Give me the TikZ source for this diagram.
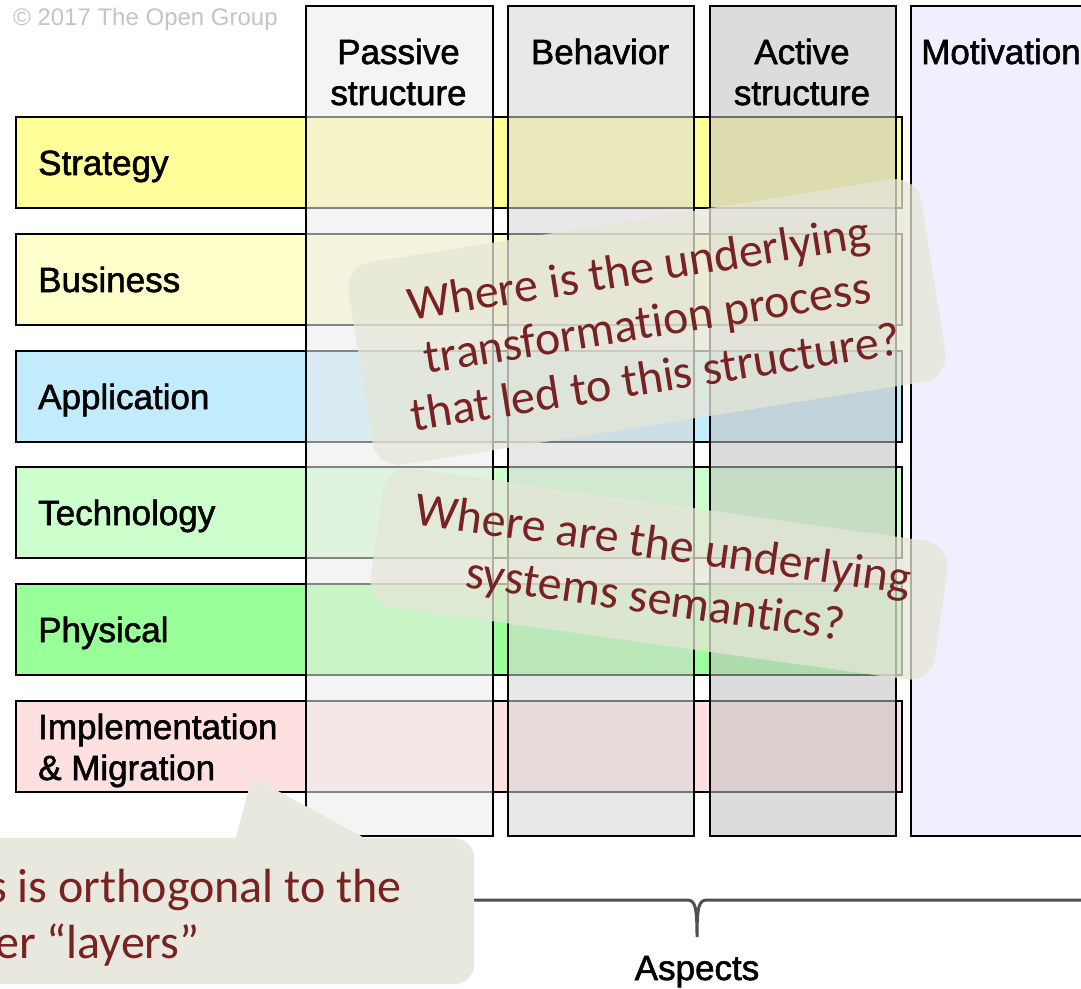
\documentclass[tikz,border=0pt]{standalone}
\usepackage{fontspec}
\setmainfont{Liberation Sans}
\newfontfamily\armfont{Liberation Sans}[FakeBold=1.6]
\newfontfamily\calibrifont{Carlito}[Ligatures={NoCommon}]
\definecolor{cStrat}{HTML}{FFFF99}
\definecolor{cBus}{HTML}{FFFFCC}
\definecolor{cApp}{HTML}{C2EBFB}
\definecolor{cTech}{HTML}{CCFFCC}
\definecolor{cPhys}{HTML}{99FF99}
\definecolor{cImpl}{HTML}{FFE0E0}
\definecolor{cPass}{RGB}{237,237,237}
\definecolor{cBeh}{RGB}{214,214,214}
\definecolor{cAct}{RGB}{193,193,193}
\definecolor{cMot}{RGB}{228,228,255}
\definecolor{cNote}{RGB}{230,230,216}
\definecolor{cNoteSolid}{RGB}{232,232,222}
\definecolor{cNoteText}{RGB}{120,34,34}
\definecolor{cCopy}{RGB}{196,196,196}
\definecolor{cBrace}{RGB}{80,80,80}
\begin{document}
\begin{tikzpicture}[x=1pt,y=-1pt,
  rowbox/.style={draw=black,line width=2pt,anchor=north west,inner sep=0pt,
    minimum width=886pt,minimum height=91pt},
  colbox/.style={draw=black,line width=2pt,anchor=north west,inner sep=0pt,
    minimum width=186pt,minimum height=830pt,fill opacity=0.56},
  lbl/.style={anchor=base west,inner sep=0pt,font=\armfont\fontsize{35}{41}\selectfont},
  hdr/.style={anchor=base,inner sep=0pt,font=\armfont\fontsize{35}{41}\selectfont},
  note/.style={fill=cNote,fill opacity=0.75,text opacity=1,rounded corners=26pt,
    text=cNoteText,align=center,inner sep=0pt,
    font=\calibrifont\fontsize{48}{55}\selectfont},
  notetext/.style={anchor=base west,inner sep=0pt,text=cNoteText,
    font=\calibrifont\fontsize{48}{56}\selectfont}]
\useasboundingbox (0,0) rectangle (1081,988);
\fill[white] (0,0) rectangle (1081,988);

% copyright
\node[anchor=base west,inner sep=0pt,text=cCopy,font=\fontsize{24}{28}\selectfont] (copy) at (13,25) {© 2017 The Open Group};

% rows (layers)
\node[rowbox,fill=cStrat] (rStrat) at (15,116) {};
\node[rowbox,fill=cBus]   (rBus)   at (15,233) {};
\node[rowbox,fill=cApp]   (rApp)   at (15,350) {};
\node[rowbox,fill=cTech]  (rTech)  at (15,466) {};
\node[rowbox,fill=cPhys]  (rPhys)  at (15,583) {};
\node[rowbox,fill=cImpl]  (rImpl)  at (15,700) {};

% columns (aspects)
\node[colbox,fill=cPass,minimum width=187pt] (cPassive) at (305,5) {};
\node[colbox,fill=cBeh]  (cBehavior) at (507,5) {};
\node[colbox,fill=cAct]  (cActive)   at (709,5) {};
\node[colbox,fill=cMot,minimum width=190pt] (cMotiv) at (910,5) {};

% column headers
\node[hdr] (hPas1) at (398.5,64) {Passive};
\node[hdr] (hPas2) at (398.5,105) {structure};
\node[hdr] (hBeh)  at (600,64) {Behavior};
\node[hdr] (hAct1) at (802,64) {Active};
\node[hdr] (hAct2) at (802,105) {structure};
\node[lbl] (hMot)  at (921,64) {Motivation};

% row labels
\node[lbl] (lStrat) at (38,175) {Strategy};
\node[lbl] (lBus)   at (38,292) {Business};
\node[lbl] (lApp)   at (38,409) {Application};
\node[lbl] (lTech)  at (38,525) {Technology};
\node[lbl] (lPhys)  at (38,642) {Physical};
\node[lbl] (lImpl1) at (38,739) {Implementation};
\node[lbl] (lImpl2) at (38,780) {\& Migration};

% callouts over the grid
\node[note,rotate=9,minimum width=580pt,minimum height=205pt] (q1) at (647,322)
  {Where is the underlying\\transformation process\\that led to this structure?};
\node[note,rotate=-8,minimum width=570pt,minimum height=140pt] (q2) at (659,574)
  {Where are the underlying\\systems semantics?};

% brace
\coordinate (bL) at (460,900);
\coordinate (bR) at (1090,900);
\coordinate (bT) at (697,937);
\draw[cBrace,line width=3pt] (bL) -- (687,900) .. controls (695,900) and (697,906) .. (bT)
  .. controls (697,906) and (699,900) .. (707,900) -- (bR);
\node[anchor=base,inner sep=0pt,font=\armfont\fontsize{35}{41}\selectfont] (aspects) at (697,980) {Aspects};

% bottom callout with pointer
\node[fill=cNoteSolid,rounded corners=20pt,anchor=north west,inner sep=0pt,
  minimum width=514pt,minimum height=146pt] (q3) at (-40,838) {};
\coordinate (pA) at (235,841);
\coordinate (pT) at (252,777);
\coordinate (pB) at (370,841);
\fill[cNoteSolid] (pA) -- (pT) -- (pB) -- cycle;
\node[notetext] (q3a) at (-12,902) {s is orthogonal to the};
\node[notetext] (q3b) at (-5,958) {er “layers”};
\end{tikzpicture}
\end{document}
